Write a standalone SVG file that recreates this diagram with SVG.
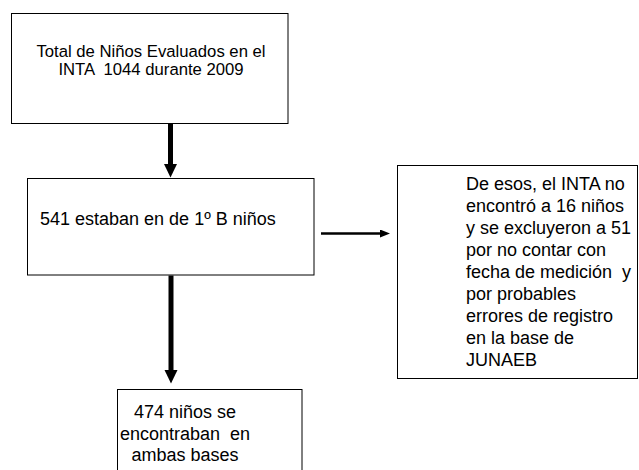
<svg xmlns="http://www.w3.org/2000/svg" width="639" height="470" viewBox="0 0 639 470">
<style>
.box{fill:#fff;stroke:#000;stroke-width:1}
.t{font-family:"Liberation Sans",Arial,sans-serif;fill:#000}
.c{stroke:#000;fill:none}
</style>
<defs>
<marker id="hb" markerUnits="userSpaceOnUse" markerWidth="14" markerHeight="14" refX="0" refY="6.5" orient="auto"><path d="M0,0 L13.5,6.5 L0,13 z" fill="#000"/></marker>
<marker id="hs" markerUnits="userSpaceOnUse" markerWidth="11" markerHeight="9" refX="0" refY="4" orient="auto"><path d="M0,0 L10,4 L0,8 z" fill="#000"/></marker>
</defs>
<rect width="639" height="470" fill="#fff"/>
<g id="connectors">
<line class="c" x1="170.5" y1="123.5" x2="170.5" y2="164" stroke-width="5" marker-end="url(#hb)"/>
<line class="c" x1="321" y1="233.5" x2="380" y2="233.5" stroke-width="2.5" marker-end="url(#hs)"/>
<line class="c" x1="171" y1="275.5" x2="171" y2="370" stroke-width="5" marker-end="url(#hb)"/>
</g>
<g id="n1">
<rect class="box" x="11.5" y="13.5" width="276.5" height="110"/>
<text class="t" font-size="16.7" text-anchor="middle"><tspan x="151" y="56.5">Total de Niños Evaluados en el</tspan><tspan x="151" y="74.5" xml:space="preserve">INTA  1044 durante 2009</tspan></text>
</g>
<g id="n2">
<rect class="box" x="27.5" y="178.5" width="286.5" height="96.5"/>
<text class="t" font-size="18" x="40" y="225">541 estaban en de 1º B niños</text>
</g>
<g id="n3">
<rect class="box" x="397.5" y="165.5" width="240" height="213"/>
<text class="t" font-size="18" xml:space="preserve"><tspan x="466" y="190">De esos, el INTA no</tspan><tspan x="466" y="212">encontró a 16 niños</tspan><tspan x="466" y="234">y se excluyeron a 51</tspan><tspan x="466" y="256">por no contar con</tspan><tspan x="466" y="278">fecha de medición  y</tspan><tspan x="466" y="300">por probables</tspan><tspan x="466" y="322">errores de registro</tspan><tspan x="466" y="344">en la base de</tspan><tspan x="466" y="366">JUNAEB</tspan></text>
</g>
<g id="n4">
<rect class="box" x="117.5" y="389.5" width="184.5" height="90"/>
<text class="t" font-size="18" text-anchor="middle" xml:space="preserve"><tspan x="185" y="418">474 niños se</tspan><tspan x="185" y="439.5">encontraban  en</tspan><tspan x="185" y="461">ambas bases</tspan></text>
</g>
</svg>
